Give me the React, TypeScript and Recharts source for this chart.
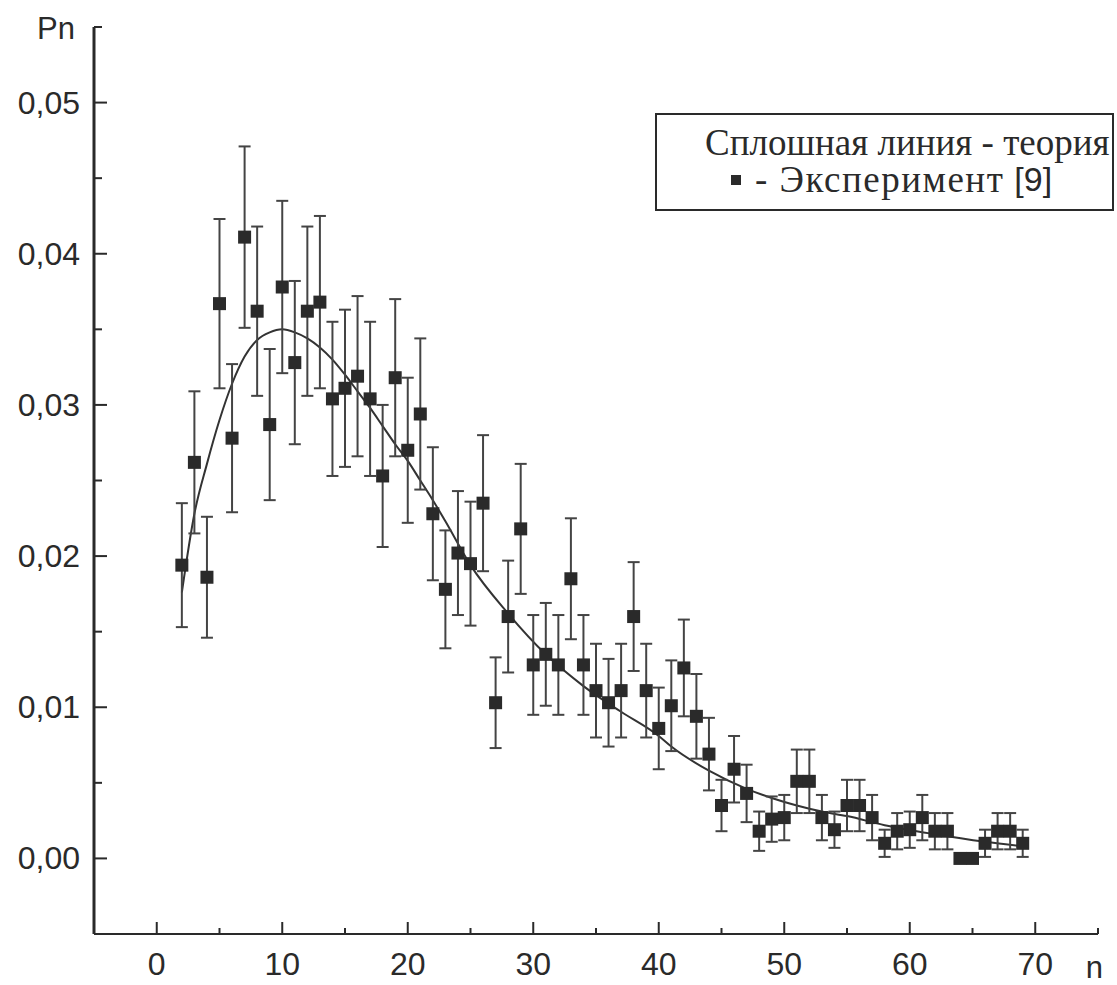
import React from "react";
import {
  ComposedChart,
  Scatter,
  Line,
  XAxis,
  YAxis,
  ErrorBar,
  Legend,
} from "recharts";

// experiment [9]
const nValues = [
  2, 3, 4, 5, 6, 7, 8, 9, 10, 11, 12, 13, 14, 15, 16, 17, 18, 19, 20, 21, 22,
  23, 24, 25, 26, 27, 28, 29, 30, 31, 32, 33, 34, 35, 36, 37, 38, 39, 40, 41,
  42, 43, 44, 45, 46, 47, 48, 49, 50, 51, 52, 53, 54, 55, 56, 57, 58, 59, 60,
  61, 62, 63, 64, 65, 66, 67, 68, 69,
];
const pnValues = [
  0.0194, 0.0262, 0.0186, 0.0367, 0.0278, 0.0411, 0.0362, 0.0287, 0.0378,
  0.0328, 0.0362, 0.0368, 0.0304, 0.0311, 0.0319, 0.0304, 0.0253, 0.0318,
  0.027, 0.0294, 0.0228, 0.0178, 0.0202, 0.0195, 0.0235, 0.0103, 0.016,
  0.0218, 0.0128, 0.0135, 0.0128, 0.0185, 0.0128, 0.0111, 0.0103, 0.0111,
  0.016, 0.0111, 0.0086, 0.0101, 0.0126, 0.0094, 0.0069, 0.0035, 0.0059,
  0.0043, 0.0018, 0.0026, 0.0027, 0.0051, 0.0051, 0.0027, 0.0019, 0.0035,
  0.0035, 0.0027, 0.001, 0.0018, 0.0019, 0.0027, 0.0018, 0.0018, 0, 0, 0.001,
  0.0018, 0.0018, 0.001,
];
const pnErrors = [
  0.0041, 0.0047, 0.004, 0.0056, 0.0049, 0.006, 0.0056, 0.005, 0.0057,
  0.0054, 0.0056, 0.0057, 0.0051, 0.0052, 0.0053, 0.0051, 0.0047, 0.0052,
  0.0048, 0.005, 0.0044, 0.0039, 0.0041, 0.0041, 0.0045, 0.003, 0.0037,
  0.0043, 0.0033, 0.0034, 0.0033, 0.004, 0.0033, 0.0031, 0.0029, 0.0031,
  0.0036, 0.0031, 0.0027, 0.003, 0.0032, 0.0028, 0.0024, 0.0017, 0.0022,
  0.0019, 0.0013, 0.0015, 0.0015, 0.0021, 0.0021, 0.0015, 0.0012, 0.0017,
  0.0017, 0.0015, 0.0009, 0.0012, 0.0012, 0.0015, 0.0012, 0.0012, 0, 0, 0.0009,
  0.0012, 0.0012, 0.0009,
];

// theory (solid line)
const theoryN = [
  2, 3, 4, 5, 6, 7, 8, 9, 10, 11, 12, 13, 14, 15, 16, 17, 18, 19, 20, 21, 22,
  23, 25, 28, 31, 34, 37, 40, 41, 44, 47, 49, 51, 53, 55, 58, 62, 66, 69,
];
const theoryPn = [
  0.0176, 0.0228, 0.0261, 0.029, 0.0314, 0.0332, 0.0343, 0.0348, 0.035,
  0.0348, 0.0344, 0.0338, 0.033, 0.032, 0.0309, 0.0298, 0.0286, 0.0274,
  0.0263, 0.025, 0.0237, 0.0223, 0.0194, 0.0162, 0.0135, 0.0114, 0.0097,
  0.0081, 0.0074, 0.0058, 0.0046, 0.004, 0.0035, 0.0031, 0.0028, 0.0022,
  0.0016, 0.0011, 0.0008,
];

const xTicks = [0, 5, 10, 15, 20, 25, 30, 35, 40, 45, 50, 55, 60, 65, 70, 75];
const yTicks = [
  0, 0.005, 0.01, 0.015, 0.02, 0.025, 0.03, 0.035, 0.04, 0.045, 0.05, 0.055,
];

const expData = nValues.map((n, i) => ({ n, pn: pnValues[i], err: pnErrors[i] }));
const theoryData = theoryN.map((n, i) => ({ n, pn: theoryPn[i] }));

const INK = "#2a2a2a";
const SANS = "'Liberation Sans', Arial, sans-serif";
const SERIF = "'Liberation Serif', 'Times New Roman', serif";

const fmt = (v: number) => v.toFixed(2).replace(".", ",");

function YTick(props: any) {
  const { x, y, payload } = props;
  const v = payload.value as number;
  const major = Math.abs(v * 100 - Math.round(v * 100)) < 1e-6;
  return (
    <g>
      <line x1={x} x2={x + (major ? 13 : 8)} y1={y} y2={y} stroke={INK} strokeWidth={2} />
      {major && (
        <text x={x - 14} y={y} dy={11} textAnchor="end" fontSize={32} fill={INK} fontFamily={SANS}>
          {fmt(v)}
        </text>
      )}
    </g>
  );
}

function XTick(props: any) {
  const { x, y, payload } = props;
  const v = payload.value as number;
  const major = v % 10 === 0;
  return (
    <g>
      <line x1={x} x2={x} y1={y} y2={y - (major ? 12 : 6)} stroke={INK} strokeWidth={2} />
      {major && v <= 70 && (
        <text x={x} y={y + 41} textAnchor="middle" fontSize={32} fill={INK} fontFamily={SANS}>
          {v}
        </text>
      )}
    </g>
  );
}

function YName(props: any) {
  const { viewBox } = props;
  return (
    <text x={viewBox.x + 75} y={viewBox.y + 12} textAnchor="end" fontSize={31} fill={INK} fontFamily={SANS}>
      Pn
    </text>
  );
}

function XName(props: any) {
  const { viewBox } = props;
  return (
    <text x={viewBox.x + viewBox.width + 5} y={viewBox.y + 44} textAnchor="end" fontSize={31} fill={INK} fontFamily={SANS}>
      n
    </text>
  );
}

function SquareDot(props: any) {
  const { cx, cy } = props;
  return <rect x={cx - 6.5} y={cy - 6.5} width={13} height={13} fill="#2a2a2a" />;
}

function LegendBox() {
  return (
    <div
      style={{
        boxSizing: "border-box",
        width: 459,
        height: 98,
        border: `2px solid ${INK}`,
        background: "#fff",
        color: INK,
        fontFamily: SERIF,
        fontSize: 37,
        lineHeight: "37px",
        paddingTop: 9,
      }}
    >
      <div style={{ paddingLeft: 48, whiteSpace: "nowrap" }}>Сплошная линия - теория</div>
      <div style={{ paddingLeft: 74, whiteSpace: "nowrap", display: "flex", alignItems: "center" }}>
        <span style={{ display: "inline-block", width: 10, height: 10, background: "#2a2a2a", marginRight: 14 }} />
        <span style={{ letterSpacing: 1.5 }}>- Эксперимент</span>
        <span style={{ fontFamily: SANS, fontSize: 34, marginLeft: 10 }}>[9]</span>
      </div>
    </div>
  );
}

export default function App() {
  return (
    <div style={{ position: "absolute", left: 0, top: 0, background: "#fff" }}>
      <ComposedChart width={1117} height={985} margin={{ top: 27, right: 19, bottom: 0, left: 0 }}>
        <XAxis
          type="number"
          dataKey="n"
          domain={[-5, 75]}
          ticks={xTicks}
          interval={0}
          height={51}
          tickSize={0}
          tickMargin={0}
          tickLine={false}
          tick={<XTick />}
          axisLine={{ stroke: INK, strokeWidth: 2 }}
          allowDataOverflow
          label={<XName />}
        />
        <YAxis
          type="number"
          dataKey="pn"
          domain={[-0.005, 0.055]}
          ticks={yTicks}
          interval={0}
          width={94}
          tickSize={0}
          tickMargin={0}
          tickLine={false}
          tick={<YTick />}
          axisLine={{ stroke: INK, strokeWidth: 3 }}
          allowDataOverflow
          label={<YName />}
        />
        <Legend
          layout="horizontal"
          verticalAlign="middle"
          wrapperStyle={{ left: 655, top: 113, width: 459, height: 98 }}
          content={<LegendBox />}
        />
        <Line
          data={theoryData}
          dataKey="pn"
          type="monotone"
          stroke="#333"
          strokeWidth={2}
          dot={false}
          isAnimationActive={false}
          legendType="none"
        />
        <Scatter
          data={expData}
          dataKey="pn"
          shape={<SquareDot />}
          isAnimationActive={false}
          legendType="none"
        >
          <ErrorBar dataKey="err" direction="y" width={6} stroke="#444" strokeWidth={2} />
        </Scatter>
      </ComposedChart>
    </div>
  );
}
